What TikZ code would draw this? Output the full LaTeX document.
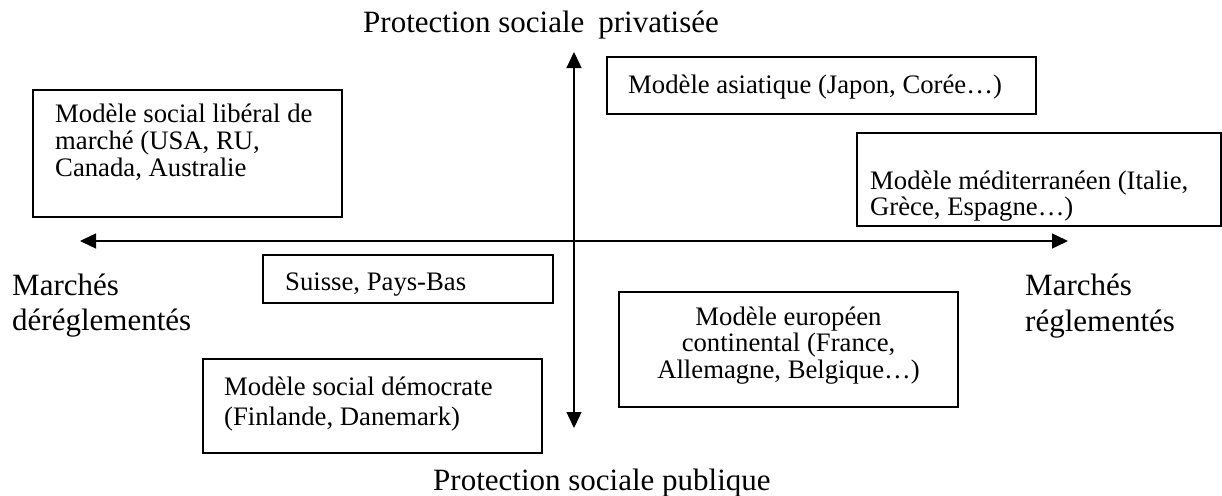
\documentclass[tikz,border=0pt]{standalone}
\usepackage{fontspec}
\setmainfont{Liberation Serif}
\usetikzlibrary{arrows.meta}
\newcommand{\leftlines}[2]{\vtop{\baselineskip=#1\relax\lineskiplimit=-20pt\halign{##\hfil\cr#2\crcr}}}
\newcommand{\centerlines}[2]{\vtop{\baselineskip=#1\relax\lineskiplimit=-20pt\halign{\hfil##\hfil\cr#2\crcr}}}
\tikzset{
  box/.style={draw=black, line width=1.4pt, inner sep=0pt, rectangle},
  boxtext/.style={inner sep=0pt, anchor=base west, font=\fontsize{26.7pt}{27pt}\selectfont},
  axislabel/.style={inner sep=0pt, anchor=base west, font=\fontsize{31pt}{35pt}\selectfont},
  axis/.style={line width=1.4pt, {Triangle[length=16pt,width=15pt]}-{Triangle[length=16pt,width=15pt]}}
}
\begin{document}
\begin{tikzpicture}[x=1pt,y=-1pt]
\useasboundingbox (0,0) rectangle (1222,495);
% axes
\coordinate (west) at (80,241);
\coordinate (east) at (1068,241);
\coordinate (north) at (574,52);
\coordinate (south) at (574,428);
\draw[axis] (west) -- (east);
\draw[axis] (north) -- (south);
% boxes
\node[box, minimum width=309pt, minimum height=127pt] (lib) at (187.5,153.5) {};
\node[box, minimum width=429pt, minimum height=57pt] (asia) at (821.5,85.5) {};
\node[box, minimum width=364pt, minimum height=93pt] (medit) at (1039,179.5) {};
\node[box, minimum width=290pt, minimum height=48pt] (suisse) at (408,279) {};
\node[box, minimum width=339pt, minimum height=94pt] (demo) at (372.5,406) {};
\node[box, minimum width=339pt, minimum height=115pt] (euro) at (788.5,349.5) {};
% box texts
\node[boxtext] (libtxt) at (55,122.7) {\leftlines{27pt}{Modèle social libéral de\cr marché (USA, RU,\cr Canada, Australie}};
\node[boxtext] (asiatxt) at (628,93) {Modèle asiatique (Japon, Corée…)};
\node[boxtext] (medittxt) at (870,189) {\leftlines{26.5pt}{Modèle méditerranéen (Italie,\cr Grèce, Espagne…)}};
\node[boxtext] (suissetxt) at (285,290) {Suisse, Pays-Bas};
\node[boxtext] (demotxt) at (224,395) {\leftlines{30pt}{Modèle social démocrate\cr (Finlande, Danemark)}};
\node[boxtext, anchor=base] (eurotxt) at (788.5,325) {\centerlines{26.5pt}{Modèle européen\cr continental (France,\cr Allemagne, Belgique…)}};
% axis labels
\node[axislabel] (top) at (363,33) {Protection sociale\hspace{0.2em} privatisée};
\node[axislabel] (bottom) at (433,490) {Protection sociale publique};
\node[axislabel] (left) at (12,295) {\leftlines{35pt}{Marchés\cr déréglementés}};
\node[axislabel] (right) at (1025,295) {\leftlines{36pt}{Marchés\cr réglementés}};
\end{tikzpicture}
\end{document}
